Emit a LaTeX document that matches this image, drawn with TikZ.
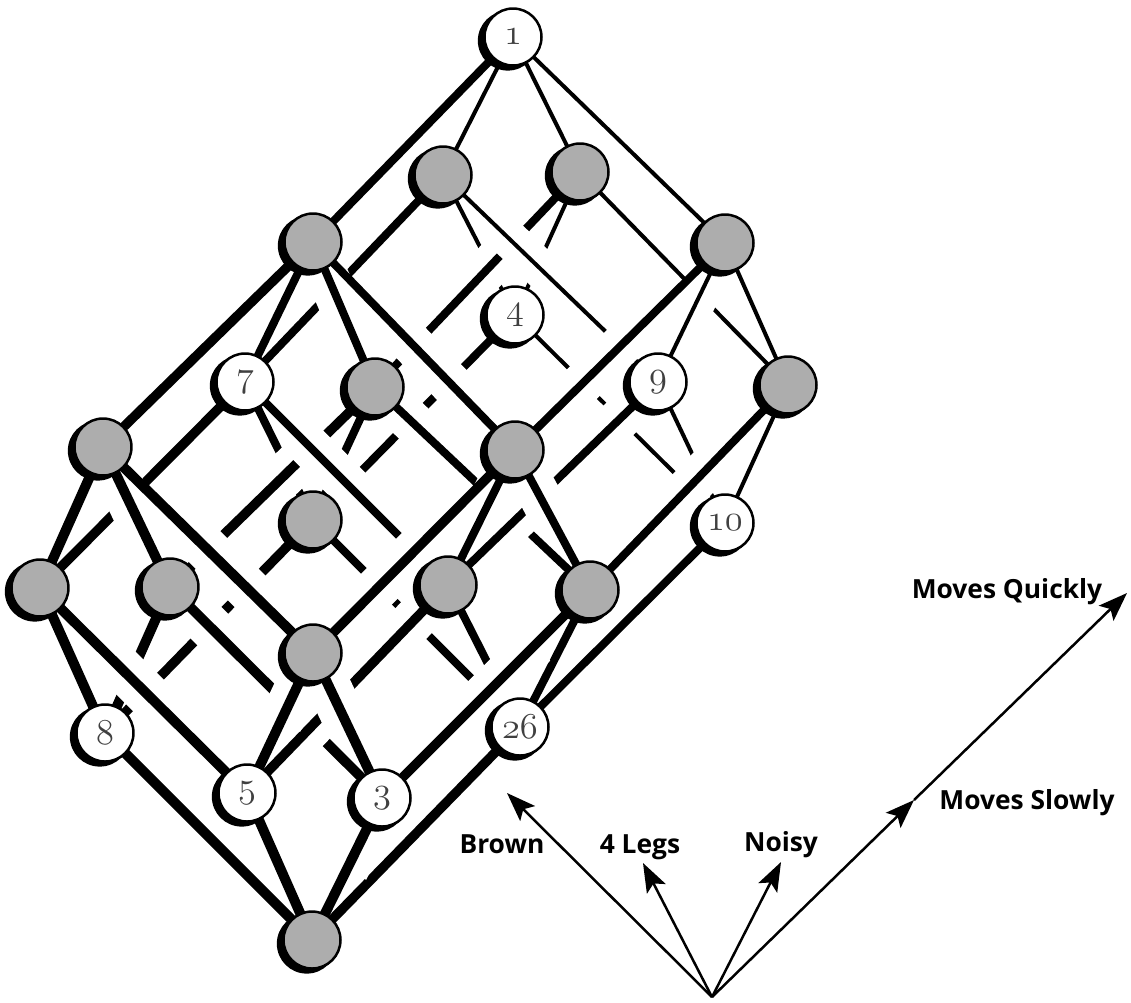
\documentclass[tikz,border=0pt]{standalone}
\usepackage{fontspec}
\newfontfamily\lblfont{Open Sans}
\usetikzlibrary{arrows.meta,shadows}
\pgfdeclarelayer{edges}
\pgfsetlayers{edges,main}
\definecolor{nodegray}{RGB}{173,173,173}
\newcommand{\osn}[1]{{\usefont{OML}{cmm}{m}{it}#1}}
\tikzset{
  vtx/.style={circle, draw=black, line width=0.05cm, minimum size=1.14cm, inner sep=0pt,
    fill=nodegray, general shadow={fill=black, opacity=1, shadow xshift=-0.1cm, shadow yshift=-0.07cm, shadow scale=1.05}},
  obj/.style={vtx, fill=white, text=black!75, font=\fontsize{21}{21}\selectfont},
  halo/.style={white, line cap=butt},
  edgeline/.style={black, line cap=butt},
  axis/.style={line width=0.05cm, -{Stealth[length=0.58cm,width=0.42cm,inset=0.12cm]}},
  axlabel/.style={font=\lblfont\bfseries\fontsize{15}{18}\selectfont, inner sep=0pt},
}
\def\wA{0.2cm}
\def\wB{0.16cm}
\def\wC{0.08cm}
\def\wMa{0.19cm}
\def\wMb{0.16cm}
\def\sA{0.68cm}
\def\sB{1.56cm}
\newcommand{\edg}[5]{%
  \draw[halo, line width=#3+0.68cm, shorten <=#4, shorten >=#5] (#1.center) -- (#2.center);
  \draw[edgeline, line width=#3] (#1.center) -- (#2.center);}
\begin{document}
\begin{tikzpicture}[x=0.02cm, y=-0.02cm]
\useasboundingbox (0,0) rectangle (1131,1002);
% nodes (br, legs, noisy, moves)
\node[vtx] (p0000) at (312,940) {};
\node[obj] (p1000) at (105,733) {\osn{8}};
\node[obj] (p0100) at (247,793) {\osn{5}};
\node[obj] (p0010) at (382,798) {\osn{3}};
\node[obj] (p0001) at (520,727) {\osn{26}};
\node[obj] (p0002) at (725,523) {\osn{10}};
\node[vtx] (p1100) at (40,588) {};
\node[vtx] (p1010) at (170,587) {};
\node[vtx] (p1001) at (313,520) {};
\node[obj] (p1002) at (515,315) {\osn{4}};
\node[vtx] (p0110) at (313,653) {};
\node[vtx] (p0101) at (448,585) {};
\node[obj] (p0102) at (658,382) {\osn{9}};
\node[vtx] (p0011) at (590,590) {};
\node[vtx] (p0012) at (788,385) {};
\node[vtx] (p1110) at (103,447) {};
\node[obj] (p1101) at (245,382) {\osn{7}};
\node[vtx] (p1102) at (443,175) {};
\node[vtx] (p1011) at (375,387) {};
\node[vtx] (p1012) at (580,172) {};
\node[vtx] (p0111) at (515,450) {};
\node[vtx] (p0112) at (725,243) {};
\node[vtx] (p1111) at (313,242) {};
\node[obj] (p1112) at (513,37) {\osn{1}};

\begin{pgfonlayer}{edges}
% br=1 face, noisy=0
\edg{p1000}{p1100}{\wA}{\sA}{\sA}
\edg{p1001}{p1101}{\wB}{\sA}{\sA}
\edg{p1002}{p1102}{\wC}{\sA}{\sA}
\edg{p1000}{p1001}{\wMa}{\sA}{\sA}
\edg{p1001}{p1002}{\wMb}{\sA}{\sA}
\edg{p1100}{p1101}{\wMa}{\sA}{\sA}
\edg{p1101}{p1102}{\wMb}{\sA}{\sA}
% br=1 face, noisy edges
\edg{p1000}{p1010}{\wA}{\sB}{\sA}
\edg{p1100}{p1110}{\wA}{\sB}{\sA}
\edg{p1001}{p1011}{\wB}{\sB}{\sA}
\edg{p1101}{p1111}{\wB}{\sB}{\sA}
\edg{p1002}{p1012}{\wC}{\sA}{\sA}
\edg{p1102}{p1112}{\wC}{\sA}{\sA}
% br=1 face, noisy=1
\edg{p1010}{p1110}{\wA}{\sA}{\sA}
\edg{p1011}{p1111}{\wB}{\sA}{\sA}
\edg{p1012}{p1112}{\wC}{\sA}{\sA}
\edg{p1010}{p1011}{\wMa}{\sA}{\sB}
\edg{p1011}{p1012}{\wMb}{\sA}{\sB}
\edg{p1110}{p1111}{\wMa}{\sA}{\sB}
\edg{p1111}{p1112}{\wMb}{\sA}{\sB}
% brown edges
\edg{p1000}{p0000}{\wA}{\sA}{\sA}
\edg{p1001}{p0001}{\wB}{\sA}{\sA}
\edg{p1002}{p0002}{\wC}{\sA}{\sA}
\edg{p1010}{p0010}{\wA}{\sA}{\sA}
\edg{p1011}{p0011}{\wB}{\sA}{\sA}
\edg{p1012}{p0012}{\wC}{\sA}{\sA}
\edg{p1100}{p0100}{\wA}{\sB}{\sA}
\edg{p1101}{p0101}{\wB}{\sB}{\sA}
\edg{p1102}{p0102}{\wC}{\sB}{\sA}
\edg{p1110}{p0110}{\wA}{\sB}{\sA}
\edg{p1111}{p0111}{\wB}{\sB}{\sA}
\edg{p1112}{p0112}{\wC}{\sB}{\sA}
% br=0 face, noisy=0
\edg{p0000}{p0100}{\wA}{\sB}{\sA}
\edg{p0001}{p0101}{\wB}{\sB}{\sA}
\edg{p0002}{p0102}{\wC}{\sB}{\sA}
\edg{p0000}{p0001}{\wMa}{\sA}{\sA}
\edg{p0001}{p0002}{\wMb}{\sA}{\sA}
\edg{p0100}{p0101}{\wMa}{\sA}{\sA}
\edg{p0101}{p0102}{\wMb}{\sA}{\sA}
% br=0 face, noisy edges
\edg{p0000}{p0010}{\wA}{\sB}{\sA}
\edg{p0100}{p0110}{\wA}{\sB}{\sA}
\edg{p0001}{p0011}{\wB}{\sB}{\sA}
\edg{p0101}{p0111}{\wB}{\sB}{\sA}
\edg{p0002}{p0012}{\wC}{\sA}{\sA}
\edg{p0102}{p0112}{\wC}{\sA}{\sA}
% br=0 face, noisy=1
\edg{p0010}{p0110}{\wA}{\sB}{\sA}
\edg{p0011}{p0111}{\wB}{\sB}{\sA}
\edg{p0012}{p0112}{\wC}{\sB}{\sA}
\edg{p0010}{p0011}{\wMa}{\sA}{\sB}
\edg{p0011}{p0012}{\wMb}{\sA}{\sB}
\edg{p0110}{p0111}{\wMa}{\sA}{\sB}
\edg{p0111}{p0112}{\wMb}{\sA}{\sB}
\end{pgfonlayer}

% axes
\coordinate (O) at (712,997);
\coordinate (tB) at (507,793);
\coordinate (tL) at (643,863);
\coordinate (tN) at (781,862);
\coordinate (tS) at (914,800);
\coordinate (tQ) at (1127,593);
\draw[axis] (O) -- (tB);
\draw[axis] (O) -- (tL);
\draw[axis] (O) -- (tN);
\draw[axis] (O) -- (tS);
\draw[axis] (tS) -- (tQ);
\node[axlabel] (lB) at (502,844) {Brown};
\node[axlabel] (lL) at (640,847) {4 Legs};
\node[axlabel] (lN) at (781,845) {Noisy};
\node[axlabel] (lS) at (1027,803) {Moves Slowly};
\node[axlabel] (lQ) at (1007,592) {Moves Quickly};
\end{tikzpicture}
\end{document}
